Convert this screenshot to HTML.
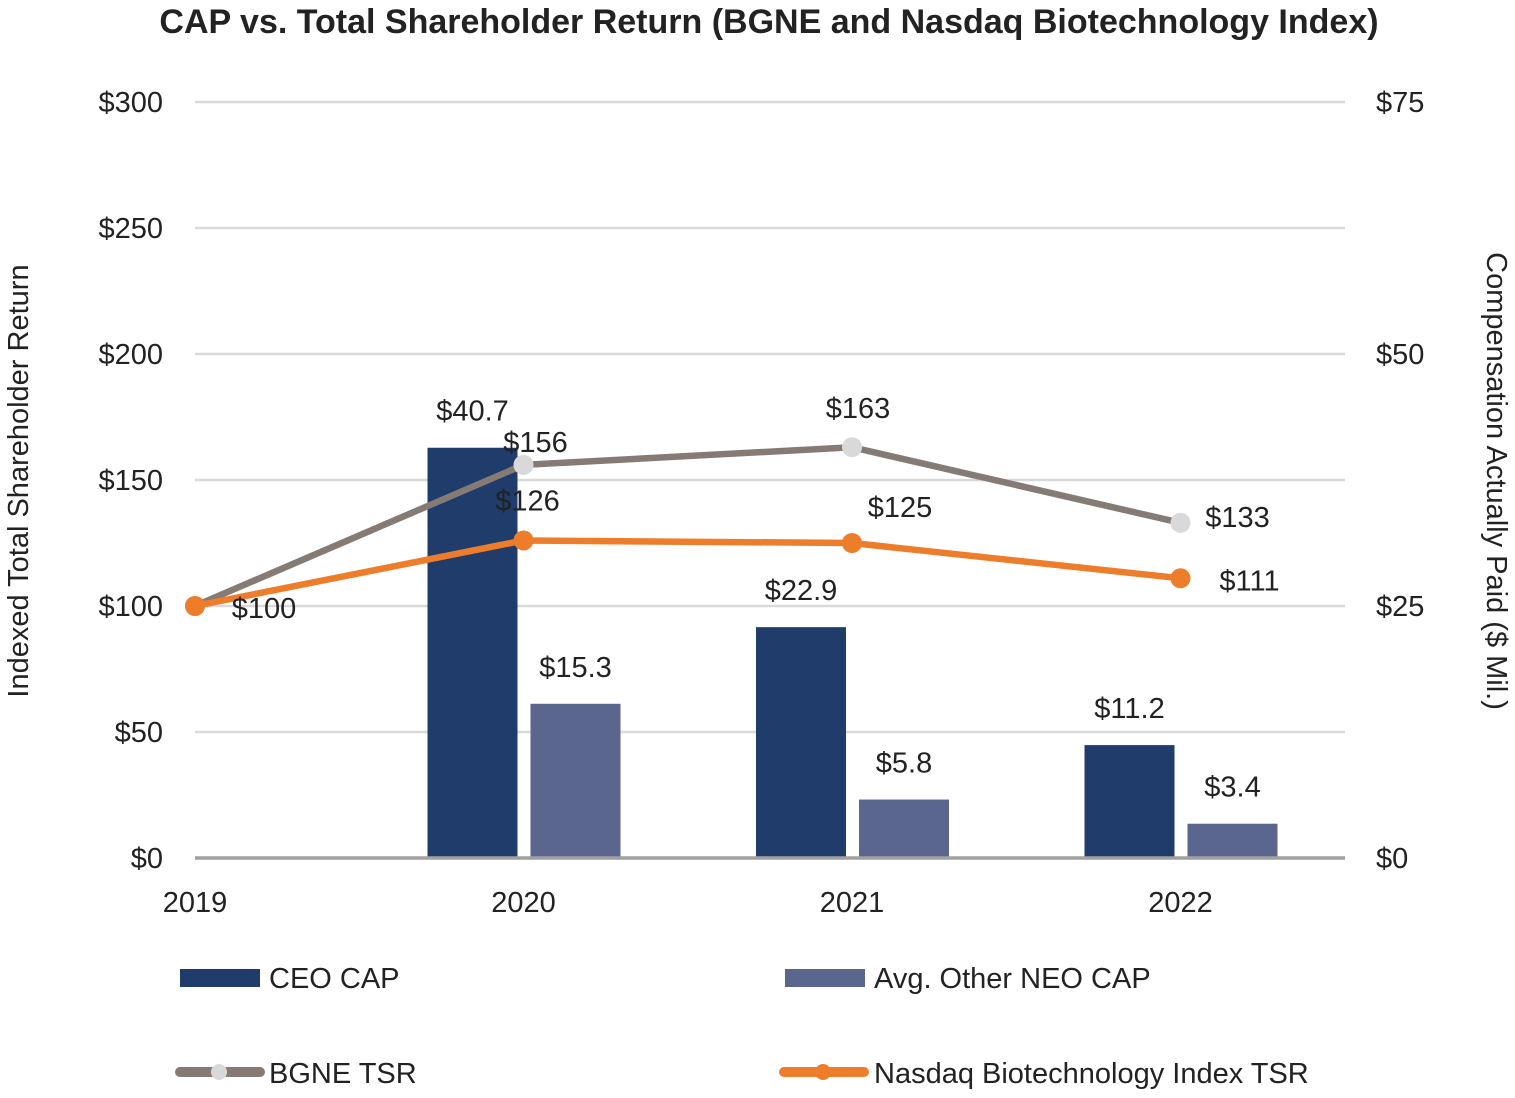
<!DOCTYPE html>
<html><head><meta charset="utf-8"><style>
html,body{margin:0;padding:0;background:#fff;}
svg text{font-family:"Liberation Sans",sans-serif;fill:#222;}
</style></head><body>
<svg id="chart" width="1515" height="1093" viewBox="0 0 1515 1093">
<text x="769" y="33" text-anchor="middle" font-size="34" font-weight="bold">CAP vs. Total Shareholder Return (BGNE and Nasdaq Biotechnology Index)</text>
<g id="grid"></g><g id="bars"></g><g id="axis"></g><g id="lines"></g><g id="labels"></g>
<text transform="translate(28,481) rotate(-90)" text-anchor="middle" font-size="29">Indexed Total Shareholder Return</text>
<text transform="translate(1487,481) rotate(90)" text-anchor="middle" font-size="29">Compensation Actually Paid ($ Mil.)</text>
<g>
<g><rect x="180" y="969" width="80" height="18" fill="#1f3c6b"/><text x="269" y="988" font-size="29">CEO CAP</text></g>
<g><rect x="785" y="969" width="80" height="18" fill="#5b668f"/><text x="874" y="988" font-size="29">Avg. Other NEO CAP</text></g>
<g><line x1="180" y1="1072" x2="260" y2="1072" stroke="#857b74" stroke-width="10" stroke-linecap="round"/><circle cx="219" cy="1072" r="8" fill="#d9d9d9"/><text x="269" y="1083" font-size="29">BGNE TSR</text></g>
<g><line x1="784" y1="1072" x2="864" y2="1072" stroke="#ee7d2b" stroke-width="10" stroke-linecap="round"/><circle cx="823" cy="1072" r="8" fill="#ee7d2b"/><text x="874" y="1083" font-size="29">Nasdaq Biotechnology Index TSR</text></g>
</g>
</svg>
<script>
const years = ["2019","2020","2021","2022"];
const ceoCap = [null, 40.7, 22.9, 11.2];
const neoCap = [null, 15.3, 5.8, 3.4];
const bgneTsr = [100, 156, 163, 133];
const nasdaqTsr = [100, 126, 125, 111];
const leftTicks = [0,50,100,150,200,250,300];
const rightTicks = [0,25,50,75];

const NS="http://www.w3.org/2000/svg";
const x0=195, x1=1345, xStep=328.5;
const yBase=858, yTop=102;
const xPos=i=>x0+i*xStep;
const yL=v=>yBase-(v/300)*(yBase-yTop);
const yR=v=>yBase-(v/75)*(yBase-yTop);
function mk(tag,attrs,parent,txt){const e=document.createElementNS(NS,tag);for(const k in attrs)e.setAttribute(k,attrs[k]);if(txt!==undefined)e.textContent=txt;parent.appendChild(e);return e;}
const grid=document.getElementById('grid'),bars=document.getElementById('bars'),axis=document.getElementById('axis'),lines=document.getElementById('lines'),labels=document.getElementById('labels');

leftTicks.forEach(t=>{
  if(t>0){
    const g=mk('line',{x1:x0,x2:x1,y1:yL(t),y2:yL(t),stroke:'#d9d9d9','stroke-width':2.5},grid);
    
    
  }
  const l=mk('text',{x:163,y:yL(t)+10,'text-anchor':'end','font-size':29},grid,'$'+t);
  
  
});
rightTicks.forEach(t=>{
  const l=mk('text',{x:1376,y:yR(t)+10,'font-size':29},grid,'$'+t);
  
  
});
years.forEach((y,i)=>{
  const l=mk('text',{x:xPos(i),y:912,'text-anchor':'middle','font-size':29},grid,y);
  
  
});

const bw=90;
function drawBars(arr,off,color,name){
  arr.forEach((v,i)=>{
    if(v===null)return;
    const cx=xPos(i)+off;
    const r=mk('rect',{x:cx-bw/2,y:yR(v),width:bw,height:yBase-yR(v),fill:color},bars);
    
    
    const t=mk('text',{x:cx,y:yR(v)-27,'text-anchor':'middle','font-size':29},labels,'$'+v.toFixed(1));
    
    
  });
}
drawBars(ceoCap,-51,'#1f3c6b','ceo-cap');
drawBars(neoCap,52,'#5b668f','neo-cap');

const ax=mk('line',{x1:x0,x2:x1,y1:yBase,y2:yBase,stroke:'#a0a0a0','stroke-width':3.5},axis);



function drawLine(arr,color,fill,name,offs){
  const pts=arr.map((v,i)=>xPos(i)+','+yL(v)).join(' ');
  const p=mk('polyline',{points:pts,fill:'none',stroke:color,'stroke-width':6.5,'stroke-linejoin':'round'},lines);
  
  
  arr.forEach((v,i)=>{
    const c=mk('circle',{cx:xPos(i),cy:yL(v),r:10,fill:fill},lines);
    
    
    if(offs[i]){
      const t=mk('text',{x:xPos(i)+offs[i][0],y:yL(v)+offs[i][1],'text-anchor':'middle','font-size':29},labels,'$'+v);
      
      
    }
  });
}
drawLine(bgneTsr,'#857b74','#d9d9d9','bgne-tsr',[null,[12,-13],[6,-29],[57,4]]);
drawLine(nasdaqTsr,'#ee7d2b','#ee7d2b','nasdaq-tsr',[[69,12],[4,-30],[48,-26],[69,12]]);
</script>
</body></html>
